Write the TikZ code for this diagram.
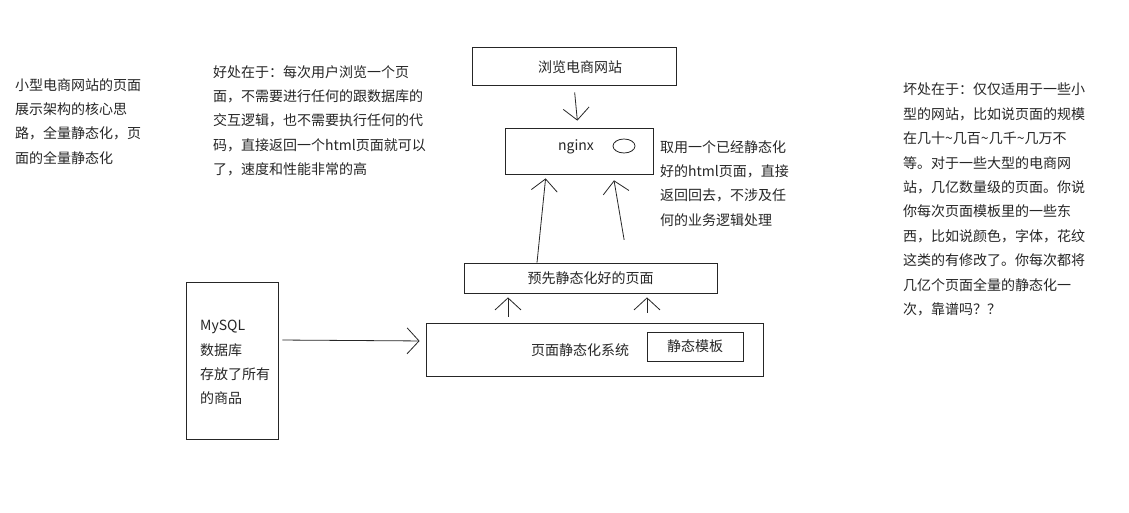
\documentclass[tikz,border=0pt]{standalone}
\usepackage{fontspec}
\newfontfamily\cjk{Noto Sans CJK SC}
\usetikzlibrary{arrows.meta,shapes.geometric}

\tikzset{
  box/.style={draw=black!85, line width=0.8pt, inner sep=0pt, text=black!85,
    font=\cjk\fontsize{14}{24.4}\selectfont},
  note/.style={anchor=north west, align=left, inner sep=0pt, text=black!85,
    font=\cjk\fontsize{14}{24.4}\selectfont},
  arr/.style={draw=black!85, line width=0.8pt,
    -{Straight Barb[length=12pt,width=26pt,line width=0.8pt]}},
}

\begin{document}
\begin{tikzpicture}[x=1pt,y=-1pt]
\useasboundingbox[fill=white] (0,0) rectangle (1129,513);

% Notas
\node[note] (intro) at (15,78) {小型电商网站的页面\\展示架构的核心思\\路，全量静态化，页\\面的全量静态化};
\node[note] (good) at (213,65) {好处在于：每次用户浏览一个页\\面，不需要进行任何的跟数据库的\\交互逻辑，也不需要执行任何的代\\码，直接返回一个html页面就可以\\了，速度和性能非常的高};
\node[note] (reply) at (660,140) {取用一个已经静态化\\好的html页面，直接\\返回回去，不涉及任\\何的业务逻辑处理};
\node[note] (bad) at (903,83) {坏处在于：仅仅适用于一些小\\型的网站，比如说页面的规模\\在几十\textasciitilde 几百\textasciitilde 几千\textasciitilde 几万不\\等。对于一些大型的电商网\\站，几亿数量级的页面。你说\\你每次页面模板里的一些东\\西，比如说颜色，字体，花纹\\这类的有修改了。你每次都将\\几亿个页面全量的静态化一\\次，靠谱吗？？};

% Caixas
\node[box, minimum width=204, minimum height=38] (browse) at (574,66) {};
\node[box, draw=none] (browsetxt) at (580,67) {浏览电商网站};
\node[box, minimum width=148, minimum height=46] (nginx) at (579,151) {};
\node[box, draw=none] (nginxtxt) at (576,147) {nginx};
\node[draw=black!85, line width=0.8pt, ellipse, minimum width=22, minimum height=14, inner sep=0pt] (cache) at (624,146) {};
\node[box, minimum width=253, minimum height=30] (pre) at (590.5,278) {预先静态化好的页面};
\node[box, minimum width=337, minimum height=53] (sys) at (594.5,349.5) {};
\node[box, draw=none] (systxt) at (580,350) {页面静态化系统};
\node[box, minimum width=96, minimum height=29] (tpl) at (695,346.5) {静态模板};
\node[box, minimum width=92, minimum height=157] (mysql) at (232,360.5) {};
\node[note] (dbtxt) at (200,320) {MySQL\\数据库\\存放了所有\\的商品};

% Setas
\draw[arr, shorten <=7pt, shorten >=7pt] (browse.south) -- ([xshift=-1pt]nginx.north);
\draw[arr, shorten >=4pt] ([xshift=-53.5pt]pre.north) -- ([xshift=-33pt]nginx.south);
\draw[arr, shorten <=23pt, shorten >=6pt] ([xshift=37.5pt]pre.north) -- ([xshift=34pt]nginx.south);
\draw[arr, shorten <=6pt, shorten >=4pt] ([xshift=-86.5pt]sys.north) -- ([xshift=-82.5pt]pre.south);
\draw[arr, shorten <=10pt, shorten >=4pt] ([xshift=52.5pt]sys.north) -- ([xshift=56.5pt]pre.south);
\draw[arr, shorten <=4pt, shorten >=6pt] ([yshift=20.5pt]mysql.east) -- ([yshift=8.5pt]sys.west);

\end{tikzpicture}
\end{document}
